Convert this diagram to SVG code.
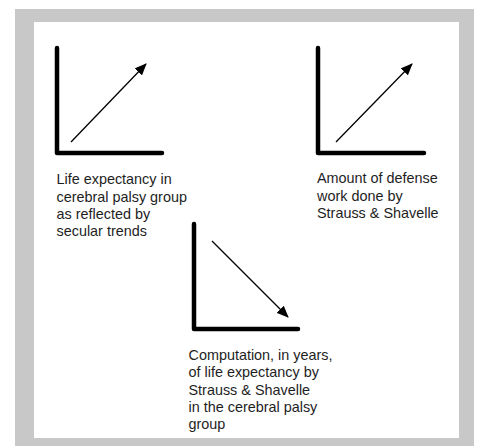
<svg xmlns="http://www.w3.org/2000/svg" width="477" height="446" viewBox="0 0 477 446">
<defs>
<style>
.axis{fill:none;stroke:#000;stroke-width:4.5;stroke-linecap:round;stroke-linejoin:round}
.arr{fill:none;stroke:#000;stroke-width:1.3}
.lbl{font-family:"Liberation Sans",Arial,sans-serif;font-size:14.4px;fill:#1e1e1e}
</style>
<marker id="ah" markerWidth="12" markerHeight="10" refX="11" refY="5" orient="auto" markerUnits="userSpaceOnUse">
<path d="M0,0 L12,5 L0,10 Z" fill="#000"/>
</marker>
</defs>
<rect x="0" y="0" width="477" height="446" fill="#fff"/>
<rect x="15" y="9" width="459" height="437" fill="#c8c8c8"/>
<rect x="34" y="22" width="425" height="416" fill="#fff"/>
<g id="chart1">
<path class="axis" d="M57,48 V153 H162"/>
<text class="lbl" x="56.5" y="184">Life expectancy in</text>
<text class="lbl" x="56.5" y="201.5">cerebral palsy group</text>
<text class="lbl" x="56.5" y="219">as reflected by</text>
<text class="lbl" x="56.5" y="236">secular trends</text>
</g>
<g id="chart2">
<path class="axis" d="M318,48 V153 H424"/>
<text class="lbl" x="317" y="183">Amount of defense</text>
<text class="lbl" x="317" y="200.5">work done by</text>
<text class="lbl" x="317" y="218">Strauss &amp; Shavelle</text>
</g>
<g id="chart3">
<path class="axis" d="M194,224 V329 H298"/>
<text class="lbl" x="188.5" y="360">Computation, in years,</text>
<text class="lbl" x="188.5" y="377">of life expectancy by</text>
<text class="lbl" x="188.5" y="394.5">Strauss &amp; Shavelle</text>
<text class="lbl" x="188.5" y="411.5">in the cerebral palsy</text>
<text class="lbl" x="188.5" y="428.5">group</text>
</g>
<g id="connectors">
<line class="arr" x1="71" y1="142" x2="146" y2="64" marker-end="url(#ah)"/>
<line class="arr" x1="336" y1="142" x2="412" y2="64" marker-end="url(#ah)"/>
<line class="arr" x1="212" y1="241" x2="288" y2="317" marker-end="url(#ah)"/>
</g>
</svg>
